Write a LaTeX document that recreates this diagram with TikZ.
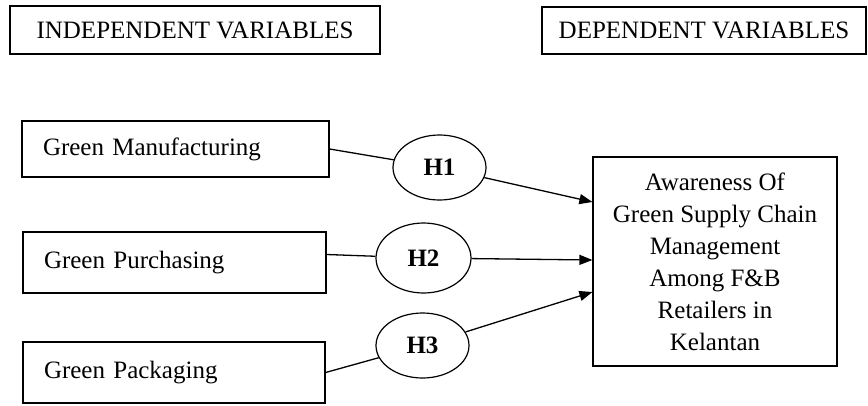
\documentclass[tikz,border=0pt]{standalone}
\usepackage{fontspec}
\setmainfont{Liberation Serif}
\usetikzlibrary{shapes.geometric,arrows.meta}
\begin{document}
\begin{tikzpicture}[x=1pt,y=-1pt,
  every node/.style={font=\fontsize{25}{32}\selectfont, line width=1.2pt},
  headbox/.style={draw, rectangle, inner sep=0pt, line width=1.6pt},
  varbox/.style={draw, rectangle, inner xsep=21pt, inner ysep=0pt, align=left},
  hypo/.style={draw, ellipse, inner sep=0pt, font=\fontsize{25}{30}\selectfont\bfseries},
  outbox/.style={draw, rectangle, minimum width=244pt, minimum height=209pt, align=center, inner sep=0pt},
  link/.style={line width=1.3pt},
  arrowlink/.style={link, -{Triangle[length=13pt,width=10pt]}}
]
\useasboundingbox (0,0) rectangle (868,405);

% headings
\node[headbox, minimum width=370pt, minimum height=48pt] (iv) at (195,30) {INDEPENDENT VARIABLES};
\node[headbox, minimum width=324pt, minimum height=47pt] (dvh) at (704,30.5) {DEPENDENT VARIABLES};

% independent variables
\node[varbox, text width=265pt, minimum height=56pt] (gm) at (175.5,149) {Green Manufacturing};
\node[varbox, text width=261pt, minimum height=61pt] (gp) at (174.5,262.5) {Green Purchasing};
\node[varbox, text width=260pt, minimum height=61pt] (gk) at (174,372.5) {Green Packaging};

% hypotheses
\node[hypo, minimum width=93pt, minimum height=65pt] (h1) at (439.5,167.5) {H1};
\node[hypo, minimum width=95pt, minimum height=70pt] (h2) at (423.5,258) {H2};
\node[hypo, minimum width=93pt, minimum height=65pt] (h3) at (422.5,345.5) {H3};

% dependent variable
\node[outbox] (ov) at (715,261.5) {Awareness Of\\Green Supply Chain\\Management\\Among F\&B\\Retailers in\\Kelantan};

% connectors
\draw[link] (gm.east) -- (h1);
\draw[link] ([yshift=8pt]gp.east) -- (h2);
\draw[link] (gk.east) -- (h3);
\draw[arrowlink] (h1) -- ([yshift=59.5pt]ov.west);
\draw[arrowlink] (h2) -- ([yshift=1.5pt]ov.west);
\draw[arrowlink] (h3) -- ([yshift=-30.5pt]ov.west);
\end{tikzpicture}
\end{document}
